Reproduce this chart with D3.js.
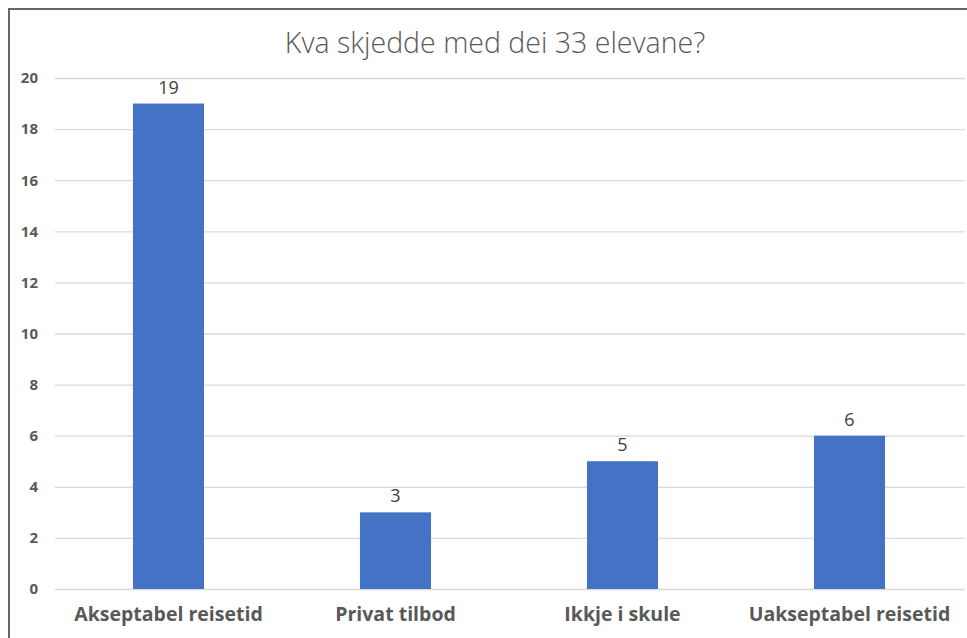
<!DOCTYPE html>
<html><head><meta charset="utf-8">
<script src="https://cdn.jsdelivr.net/npm/d3@7"></script>
<style>body{margin:0;background:#fff;} svg{display:block;}</style>
</head><body>
<svg id="chart" width="967" height="638"></svg>
<script>
const title = "Kva skjedde med dei 33 elevane?";
const categories = ["Akseptabel reisetid", "Privat tilbod", "Ikkje i skule", "Uakseptabel reisetid"];
const values = [19, 3, 5, 6];
const yTicks = [0, 2, 4, 6, 8, 10, 12, 14, 16, 18, 20];

const svg = d3.select("#chart");
const W = 967, H = 638;
const plot = {left: 55, right: 963, top: 78, bottom: 589};

svg.append("rect").attr("width", W).attr("height", H).attr("fill", "#fff");
// chart border
svg.append("rect").attr("x", 9).attr("y", 9).attr("width", W + 20).attr("height", H + 20)
  .attr("fill", "none").attr("stroke", "#646669").attr("stroke-width", 2);

svg.append("text").attr("x", 495).attr("y", 53).attr("text-anchor", "middle")
  .attr("font-family", "'Open Sans', sans-serif").attr("font-weight", 300)
  .attr("font-size", 28.5).attr("fill", "#595959").text(title);

const x = d3.scaleBand().domain(categories).range([plot.left, plot.right]).paddingInner(0.687).paddingOuter(0.3435);
const y = d3.scaleLinear().domain([0, 20]).range([plot.bottom, plot.top]);

const gy = svg.append("g").attr("transform", `translate(${plot.left},0)`)
  .call(d3.axisLeft(y).tickValues(yTicks).tickSize(-(plot.right - plot.left + 2)).tickPadding(17));
gy.select(".domain").remove();
gy.selectAll(".tick line").attr("stroke", "#d9d9d9").attr("stroke-width", 1.3);
gy.selectAll(".tick text").attr("font-family", "'Open Sans', sans-serif").attr("font-weight", 700)
  .attr("font-size", 15).attr("fill", "#595959");

svg.append("g").selectAll("rect").data(values).join("rect")
  .attr("x", (d, i) => x(categories[i])).attr("width", x.bandwidth())
  .attr("y", d => y(d)).attr("height", d => y(0) - y(d)).attr("fill", "#4472c4");

svg.append("g").selectAll("text").data(values).join("text")
  .attr("x", (d, i) => x(categories[i]) + x.bandwidth() / 2).attr("y", d => y(d) - 10)
  .attr("text-anchor", "middle").attr("font-family", "'Open Sans', sans-serif")
  .attr("font-size", 18).attr("fill", "#404040").text(d => d);

const gx = svg.append("g").attr("transform", `translate(0,${plot.bottom})`)
  .call(d3.axisBottom(x).tickSize(0).tickPadding(18));
gx.select(".domain").remove();
gx.selectAll(".tick text").attr("font-family", "'Open Sans', sans-serif").attr("font-weight", 700)
  .attr("font-size", 19.5).attr("fill", "#595959");
</script>
</body></html>
